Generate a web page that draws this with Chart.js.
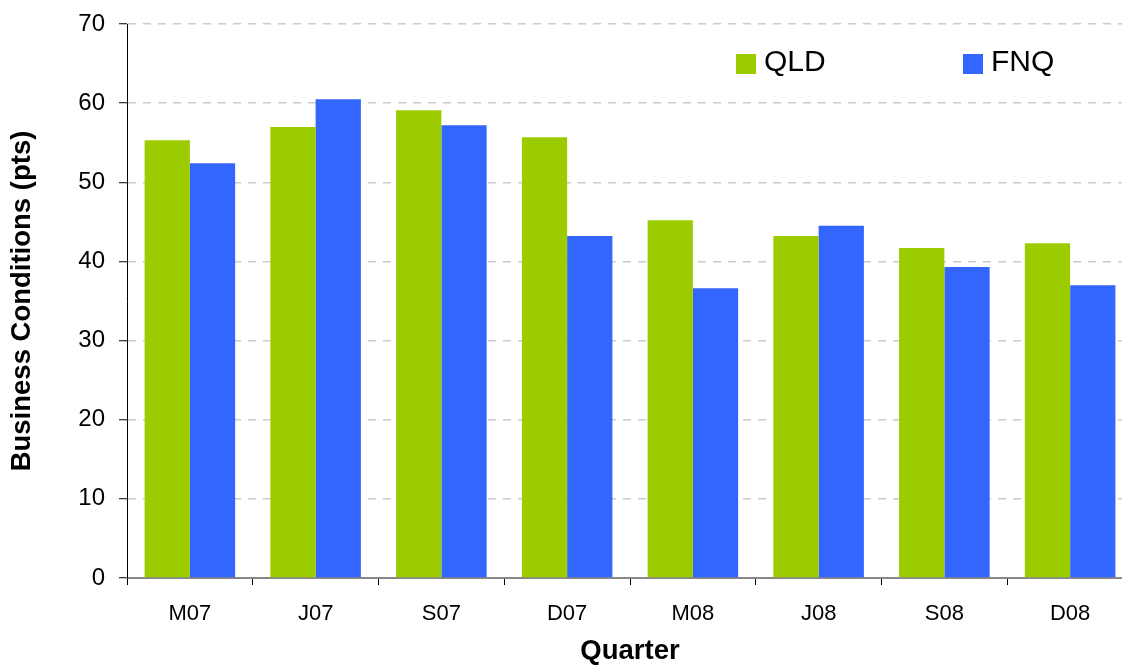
<!DOCTYPE html>
<html>
<head>
<meta charset="utf-8">
<script src="https://cdn.jsdelivr.net/npm/chart.js@4/dist/chart.umd.min.js"></script>
<style>
  html, body { margin: 0; padding: 0; background: #fff; overflow: hidden; }
  #chart { display: block; }
</style>
</head>
<body>
<canvas id="chart" width="1140" height="665"></canvas>
<script>
// Quarterly business conditions, QLD vs FNQ
const quarters = ['M07', 'J07', 'S07', 'D07', 'M08', 'J08', 'S08', 'D08'];
const qldValues = [55.3, 57.0, 59.1, 55.7, 45.2, 43.2, 41.7, 42.3];
const fnqValues = [52.4, 60.5, 57.2, 43.2, 36.6, 44.5, 39.3, 37.0];
const yTicks = [0, 10, 20, 30, 40, 50, 60, 70];

const FONT = "'Liberation Sans', Arial, sans-serif";

// Legend drawn inside the plot, top right (as in the original)
const insideLegend = {
  id: 'insideLegend',
  afterDraw(chart) {
    const { ctx, chartArea } = chart;
    const slots = [609, 836]; // box offsets from plot left
    ctx.save();
    ctx.font = '30px ' + FONT;
    ctx.textBaseline = 'middle';
    chart.data.datasets.forEach((ds, i) => {
      const x = chartArea.left + slots[i];
      const y = chartArea.top + 30;
      ctx.fillStyle = ds.backgroundColor;
      ctx.fillRect(x, y, 20, 20);
      ctx.fillStyle = '#000';
      ctx.fillText(ds.label, x + 28, y + 9);
    });
    ctx.restore();
  }
};

new Chart(document.getElementById('chart'), {
  type: 'bar',
  data: {
    labels: quarters,
    datasets: [
      { label: 'QLD', data: qldValues, backgroundColor: '#9ccc00', categoryPercentage: 0.72, barPercentage: 1.0 },
      { label: 'FNQ', data: fnqValues, backgroundColor: '#3366ff', categoryPercentage: 0.72, barPercentage: 1.0 }
    ]
  },
  options: {
    responsive: false,
    devicePixelRatio: 1,
    animation: false,
    layout: { padding: { top: 24, right: 7, left: 0, bottom: 0 } },
    plugins: {
      legend: { display: false },
      tooltip: { enabled: false }
    },
    scales: {
      x: {
        afterFit: (scale) => { scale.height = 87; },
        border: { color: '#888', width: 2 },
        grid: { drawOnChartArea: false, drawTicks: true, tickLength: 7, tickColor: '#000', offset: true },
        ticks: { color: '#000', font: { family: FONT, size: 22 }, padding: 16, maxRotation: 0 },
        title: { display: true, text: 'Quarter', color: '#000', font: { family: FONT, size: 27.5, weight: 'bold', lineHeight: 1 }, padding: 0 }
      },
      y: {
        min: 0,
        max: 70,
        afterFit: (scale) => { scale.width = 127; scale.paddingTop = 0; },
        afterBuildTicks: (scale) => { scale.ticks = yTicks.map(v => ({ value: v })); },
        border: { color: '#000', width: 1, dash: [8, 7] },
        grid: { color: '#cccccc', lineWidth: 1.5, drawTicks: true, tickLength: 8, tickColor: '#000', tickWidth: 1 },
        ticks: { color: '#000', font: { family: FONT, size: 24, lineHeight: 1 }, padding: 14 },
        title: { display: true, text: 'Business Conditions (pts)', color: '#000', font: { family: FONT, size: 27.5, weight: 'bold', lineHeight: 1 }, padding: { top: 9, bottom: 0 } }
      }
    }
  },
  plugins: [insideLegend]
});
</script>
</body>
</html>
